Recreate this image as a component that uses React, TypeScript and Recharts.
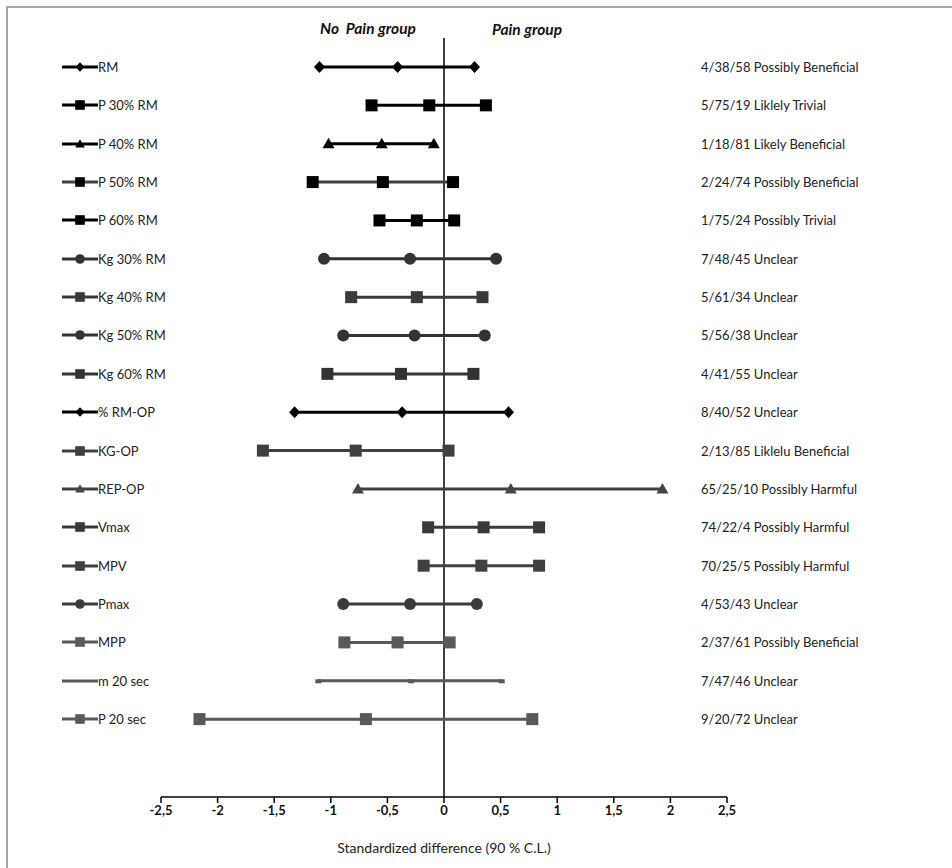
import React from 'react'
import { ReferenceLine, Scatter, ScatterChart, XAxis, YAxis } from 'recharts'

const ROWS = [
  'RM',
  'P 30% RM',
  'P 40% RM',
  'P 50% RM',
  'P 60% RM',
  'Kg 30% RM',
  'Kg 40% RM',
  'Kg 50% RM',
  'Kg 60% RM',
  '% RM-OP',
  'KG-OP',
  'REP-OP',
  'Vmax',
  'MPV',
  'Pmax',
  'MPP',
  'm 20 sec',
  'P 20 sec',
]

// lower limit / mean / upper limit of the standardized difference
const LOWER = [-1.1, -0.64, -1.02, -1.16, -0.57, -1.06, -0.82, -0.89, -1.03, -1.32, -1.6, -0.76, -0.14, -0.18, -0.89, -0.88, -1.11, -2.16]
const MEAN = [-0.41, -0.13, -0.55, -0.54, -0.24, -0.3, -0.24, -0.26, -0.38, -0.37, -0.78, 0.59, 0.35, 0.33, -0.3, -0.41, -0.29, -0.69]
const UPPER = [0.27, 0.37, -0.09, 0.08, 0.09, 0.46, 0.34, 0.36, 0.26, 0.57, 0.04, 1.93, 0.84, 0.84, 0.29, 0.05, 0.51, 0.78]

const NOTES = [
  '4/38/58 Possibly Beneficial',
  '5/75/19 Liklely Trivial',
  '1/18/81 Likely Beneficial',
  '2/24/74 Possibly Beneficial',
  '1/75/24 Possibly Trivial',
  '7/48/45 Unclear',
  '5/61/34 Unclear',
  '5/56/38 Unclear',
  '4/41/55 Unclear',
  '8/40/52 Unclear',
  '2/13/85 Liklelu Beneficial',
  '65/25/10 Possibly Harmful',
  '74/22/4 Possibly Harmful',
  '70/25/5 Possibly Harmful',
  '4/53/43 Unclear',
  '2/37/61 Possibly Beneficial',
  '7/47/46 Unclear',
  '9/20/72 Unclear',
]

const SHAPES = ['diamond', 'square', 'triangle', 'square', 'square', 'circle', 'square', 'circle', 'square', 'diamond', 'square', 'triangle', 'square', 'square', 'circle', 'square', 'dash', 'square']
const LINE_COLORS = ['#000', '#000', '#000', '#404040', '#000', '#333', '#3a3a3a', '#333', '#333', '#000', '#404040', '#404040', '#3a3a3a', '#404040', '#3a3a3a', '#595959', '#595959', '#595959']
const MARK_COLORS = ['#000', '#000', '#000', '#000', '#000', '#333', '#3a3a3a', '#333', '#333', '#000', '#404040', '#454545', '#3a3a3a', '#404040', '#3a3a3a', '#595959', '#595959', '#595959']

const X_TICKS = [-2.5, -2, -1.5, -1, -0.5, 0, 0.5, 1, 1.5, 2, 2.5]

const FONT = 'Lato, "Open Sans", sans-serif'
const ROW_TOP = 67
const ROW_STEP = 38.35

function Marker({ kind, cx, cy, color, small }: { kind: string; cx: number; cy: number; color: string; small?: boolean }) {
  const s = small ? 0.8 : 1
  if (kind === 'diamond') {
    return <polygon points={`${cx},${cy - 6 * s} ${cx + 5.5 * s},${cy} ${cx},${cy + 6 * s} ${cx - 5.5 * s},${cy}`} fill={color} />
  }
  if (kind === 'square') {
    return <rect x={cx - 6 * s} y={cy - 6 * s} width={12 * s} height={12 * s} fill={color} />
  }
  if (kind === 'triangle') {
    return <polygon points={`${cx},${cy - 6 * s} ${cx + 6 * s},${cy + 4.5 * s} ${cx - 6 * s},${cy + 4.5 * s}`} fill={color} />
  }
  if (kind === 'circle') {
    return <circle cx={cx} cy={cy} r={6 * s} fill={color} />
  }
  return <rect x={cx - 3} y={cy - 1.5} width={6} height={4} fill={color} />
}

function LegendRow({ i }: { i: number }) {
  return (
    <div
      style={{
        position: 'absolute',
        left: 62,
        top: ROW_TOP + i * ROW_STEP - 10,
        height: 20,
        display: 'flex',
        alignItems: 'center',
        fontSize: 13,
        color: '#222',
        whiteSpace: 'nowrap',
      }}
    >
      <svg width={36} height={20}>
        <line x1={0} y1={10} x2={36} y2={10} stroke={LINE_COLORS[i]} strokeWidth={3} />
        {SHAPES[i] !== 'dash' && <Marker kind={SHAPES[i]} cx={18} cy={10} color={MARK_COLORS[i]} small />}
      </svg>
      <span>{ROWS[i]}</span>
    </div>
  )
}

export default function App() {
  return (
    <div
      style={{
        position: 'absolute',
        left: 0,
        top: 0,
        width: 952,
        height: 868,
        background: '#fff',
        fontFamily: FONT,
        overflow: 'hidden',
      }}
    >
      <div style={{ position: 'absolute', left: 6, top: 6, width: 960, height: 880, borderTop: '2px solid #a6a6a6', borderLeft: '2px solid #a6a6a6' }} />

      <div style={{ position: 'absolute', left: 0, top: 0 }}>
        <ScatterChart width={952} height={868} margin={{ top: 38, right: 225, bottom: 11, left: 161 }}>
          <XAxis
            type="number"
            dataKey="x"
            domain={[-2.5, 2.5]}
            ticks={X_TICKS}
            interval={0}
            allowDataOverflow
            height={60}
            axisLine={{ stroke: '#000', strokeWidth: 1.5 }}
            tickLine={{ stroke: '#000', strokeWidth: 1.5 }}
            tickSize={6}
            tickMargin={3}
            tick={{ fill: '#111', fontSize: 13, fontWeight: 700, fontFamily: FONT }}
            tickFormatter={(v: number) => String(v).replace('.', ',')}
            label={{ value: 'Standardized difference (90 % C.L.)', position: 'insideBottom', offset: 4, fill: '#222', fontSize: 14, fontFamily: FONT }}
          />
          <YAxis type="number" dataKey="y" domain={[-0.756, 19.03]} reversed hide />
          <ReferenceLine x={0} stroke="#000" strokeWidth={1.5} />
          {ROWS.map((name, i) => (
            <Scatter
              key={name}
              name={name}
              data={[
                { x: LOWER[i], y: i },
                { x: MEAN[i], y: i },
                { x: UPPER[i], y: i },
              ]}
              line={{ stroke: LINE_COLORS[i], strokeWidth: 3 }}
              lineType="joint"
              shape={(p: any) => <Marker kind={SHAPES[i]} cx={p.cx} cy={p.cy} color={MARK_COLORS[i]} />}
              isAnimationActive={false}
            />
          ))}
        </ScatterChart>
      </div>

      <div style={{ position: 'absolute', left: 320, top: 19, fontSize: 15.5, fontWeight: 700, fontStyle: 'italic', color: '#111', whiteSpace: 'pre' }}>
        {'No  Pain group'}
      </div>
      <div style={{ position: 'absolute', left: 492, top: 20, fontSize: 15.5, fontWeight: 700, fontStyle: 'italic', color: '#111' }}>
        Pain group
      </div>

      {ROWS.map((name, i) => (
        <LegendRow key={name} i={i} />
      ))}

      {NOTES.map((note, i) => (
        <div
          key={i}
          style={{
            position: 'absolute',
            left: 701,
            top: ROW_TOP + i * ROW_STEP - 9,
            fontSize: 13,
            lineHeight: '18px',
            color: '#222',
            whiteSpace: 'nowrap',
          }}
        >
          {note}
        </div>
      ))}
    </div>
  )
}
